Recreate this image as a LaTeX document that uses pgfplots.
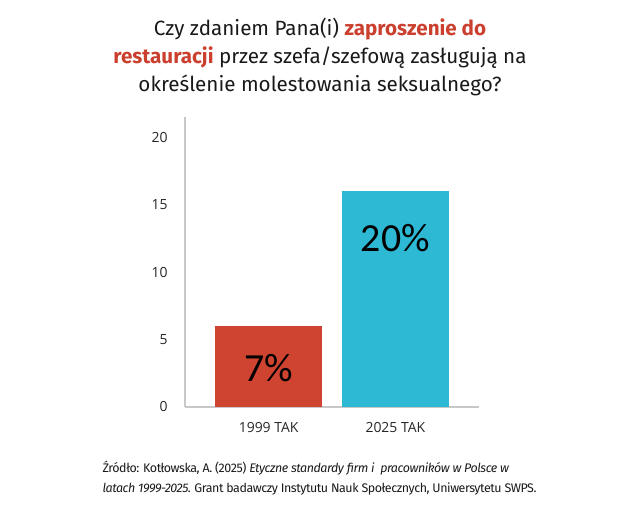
\documentclass[border=0pt]{standalone}
\usepackage{pgfplots}
\pgfplotsset{compat=1.18}
\usepackage{fontspec}
\setmainfont{Fira Sans}
\newfontfamily\footfont[LetterSpace=-3.5]{Fira Sans}
\newfontfamily\tickfont{Open Sans}
\newfontfamily\barfont{Carlito}
\definecolor{barred}{HTML}{CF4331}
\definecolor{barblue}{HTML}{2DB8D4}
\definecolor{titlered}{HTML}{CB3F2E}
\definecolor{axgray}{HTML}{C8C8C8}
\begin{document}
\begin{tikzpicture}
\path[use as bounding box] (0,0) rectangle (640bp,-515bp);
\begin{axis}[
  scale only axis, width=294bp, height=290bp,
  at={(185bp,-407bp)}, anchor=south west,
  ybar, bar width=0.84, bar shift=0pt,
  xmin=-0.66, xmax=1.66, ymin=0, ymax=21.5,
  xtick={0,1}, xticklabels={1999 TAK, 2025 TAK},
  ytick={0,5,10,15,20},
  axis x line*=bottom, axis y line*=left,
  axis line style={axgray, line width=1.2pt, -},
  major tick length=0pt,
  tick label style={font=\fontsize{14}{16}\tickfont, text=black!85},
  /pgf/number format/assume math mode=true,
  yticklabel style={xshift=-14bp},
  xticklabel style={yshift=-12bp},
  clip=false,
]
\addplot[fill=barred, draw=none] coordinates {(0,6)};
\addplot[fill=barblue, draw=none] coordinates {(1,16)};
\node[font=\fontsize{40}{42}\barfont] at (axis cs:0,2.9) {7\%};
\node[font=\fontsize{40}{42}\barfont] at (axis cs:1,12.5) {20\%};
\end{axis}
\node[align=center, font=\fontsize{20.7}{28.5}\selectfont, text=black!90] at (320bp,-57bp)
 {Czy zdaniem Pana(i) {\color{titlered}\bfseries zaproszenie do}\\
  {\color{titlered}\bfseries restauracji} przez szefa/szefową zasługują na\\
  określenie molestowania seksualnego?};
\node[align=left, anchor=north west, font=\fontsize{12.5}{20}\footfont, text=black!90] at (99bp,-458bp)
 {Źródło: Kotłowska, A. (2025) \textit{Etyczne standardy firm i\ \ pracowników w Polsce w}\\
  \textit{latach 1999-2025.} Grant badawczy Instytutu Nauk Społecznych, Uniwersytetu SWPS.};
\end{tikzpicture}
\end{document}
